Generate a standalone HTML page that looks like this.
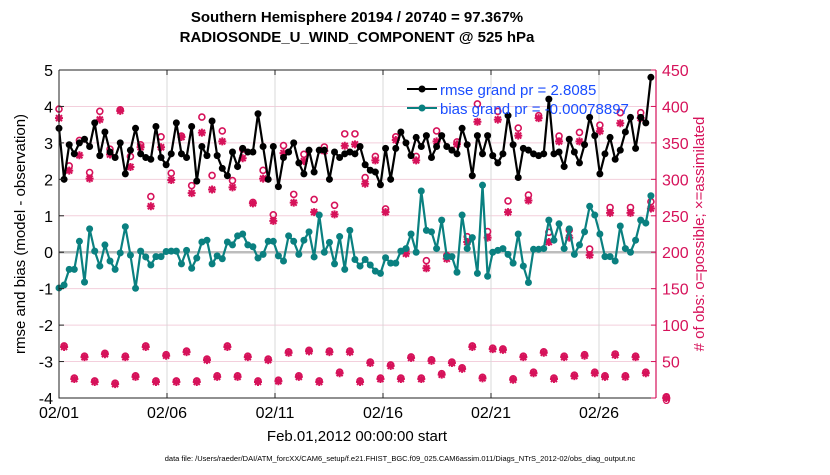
<!DOCTYPE html>
<html><head><meta charset="utf-8"><style>
body{margin:0;background:#fff;}
svg{font-family:"Liberation Sans",Arial,sans-serif;}
</style></head><body>
<svg id="chart" width="830" height="470" viewBox="0 0 830 470" xmlns="http://www.w3.org/2000/svg">
<rect width="830" height="470" fill="#fff"/>
<text x="357" y="22" text-anchor="middle" font-size="15" font-weight="bold">Southern Hemisphere 20194 / 20740 = 97.367%</text>
<text x="357" y="42" text-anchor="middle" font-size="15" font-weight="bold">RADIOSONDE_U_WIND_COMPONENT @ 525 hPa</text>
<g id="grid"></g>
<g id="marks"></g>
<g id="axes"></g>
<text transform="translate(25,234) rotate(-90)" text-anchor="middle" font-size="15">rmse and bias (model - observation)</text>
<text transform="translate(704,234) rotate(-90)" text-anchor="middle" font-size="15" fill="#d6125a">#  of obs: o=possible; ×=assimilated</text>
<text x="357" y="441" text-anchor="middle" font-size="15">Feb.01,2012 00:00:00 start</text>
<text x="400" y="461" text-anchor="middle" font-size="7.5">data file: /Users/raeder/DAI/ATM_forcXX/CAM6_setup/f.e21.FHIST_BGC.f09_025.CAM6assim.011/Diags_NTrS_2012-02/obs_diag_output.nc</text>
<g id="legend">
  <line x1="407" y1="89" x2="437" y2="89" stroke="#000" stroke-width="2"/>
  <circle cx="422" cy="89" r="3.5" fill="#000"/>
  <text x="440" y="95" font-size="15" fill="#1a4dff">rmse grand pr = 2.8085</text>
  <line x1="407" y1="108" x2="437" y2="108" stroke="#0a8080" stroke-width="2"/>
  <circle cx="422" cy="108" r="3.5" fill="#0a8080"/>
  <text x="440" y="114" font-size="15" fill="#1a4dff">bias grand pr = -0.00078897</text>
</g>
</svg>
<script>
const rmse=[3.4,2.0,2.95,2.7,3.0,3.1,2.9,3.55,2.65,3.3,2.75,2.6,3.0,2.15,2.8,3.4,2.7,2.6,2.55,3.45,2.6,2.4,2.7,3.55,2.7,2.6,3.45,1.95,2.9,
2.65,3.6,2.65,2.3,2.1,2.75,2.35,2.85,2.75,2.75,3.8,2.9,2.0,2.9,1.8,2.6,2.75,3.0,2.45,2.15,2.8,2.2,2.8,2.8,2.0,2.75,2.6,2.7,
2.75,2.7,2.9,2.4,2.25,2.2,1.85,2.85,2.0,2.85,3.3,3.0,2.65,3.15,2.9,3.2,2.6,2.9,3.2,2.9,2.8,2.7,3.4,2.95,2.1,3.2,2.7,3.2,2.65,
2.45,2.7,3.75,2.95,2.05,2.85,2.8,2.7,2.65,2.7,4.2,2.7,2.75,2.35,3.1,2.75,2.45,2.95,3.7,3.2,2.15,2.7,3.15,2.55,2.8,3.3,3.7,2.85,3.7,3.55,4.8];
const bias=[-0.98,-0.9,-0.47,-0.47,0.3,-0.82,0.64,0.03,-0.38,0.2,-0.24,-0.47,-0.02,0.7,-0.08,-0.99,0.03,-0.13,-0.35,-0.12,-0.12,0.02,0.03,0.03,-0.32,0.05,-0.44,-0.16,0.28,
0.33,-0.32,-0.1,-0.18,0.28,0.2,0.45,0.5,0.2,0.15,-0.16,-0.06,0.3,0.3,-0.1,-0.24,0.45,0.3,-0.06,0.33,0.56,-0.13,1.02,0.0,0.27,-0.32,0.43,-0.47,
0.6,-0.2,-0.38,-0.2,-0.35,-0.52,-0.58,-0.15,-0.3,-0.3,0.03,0.1,0.5,0.0,1.68,0.6,0.56,0.1,0.88,-0.12,-0.12,-0.55,1.02,0.1,0.4,-0.58,1.84,-0.66,0.0,
0.05,0.1,-0.06,-0.3,0.5,-0.38,-0.83,0.08,0.08,0.1,0.88,0.33,0.78,0.1,0.64,-0.06,0.2,0.56,1.26,1.02,0.5,-0.12,-0.12,-0.24,0.72,0.1,0.0,0.33,0.88,0.8,1.55];
const synPossible=[395,317,352,308,392,340,394,330,346,275,357,307,358,290,384,304,365,297,340,267,311,250,345,278,333,271,343,263,361,361,301,330,258,357,202,330,187,365,194,350,220,402,227,392,269,369,277,386,226,358,229,363,203,373,260,390,260,390,268];
const synAssim=[384,312,333,301,382,334,394,317,344,263,344,299,358,281,364,286,352,289,329,267,301,243,336,268,325,255,339,252,346,348,294,326,255,354,198,326,178,352,191,348,214,379,220,382,255,360,271,384,214,352,220,352,196,366,254,377,254,384,260];
const offCounts=[70,26,56,22,60,19,56,29,70,22,58,22,63,22,52,29,70,29,56,22,52,23,62,29,64,22,63,34,63,22,48,26,44,26,55,26,51,32,48,40,70,27,67,66,25,56,34,62,26,56,30,58,34,29,59,29,56,34,null,0];
const dayTicks=[1,6,11,16,21,26];
const yTicks=[5,4,3,2,1,0,-1,-2,-3,-4];
const rTicks=[450,400,350,300,250,200,150,100,50,0];

const NS='http://www.w3.org/2000/svg';
const L=59,R=656,T=70,B=398,NIDX=118;
const xIdx=i=>L+i*(R-L)/(NIDX-1);
const xDay=d=>L+(d-1)*21.6;
const yL=v=>T+(5-v)*(B-T)/9;
const yR=v=>B-v*(B-T)/450;
function mk(tag,attrs,parent){const e=document.createElementNS(NS,tag);for(const k in attrs)e.setAttribute(k,attrs[k]);parent.appendChild(e);return e;}
const grid=document.getElementById('grid'),marks=document.getElementById('marks'),axes=document.getElementById('axes');

yTicks.forEach(v=>{const g=mk('line',{x1:L,x2:R,y1:yL(v),y2:yL(v),stroke:'#f3cfdc','stroke-width':1},grid);

});
dayTicks.forEach(d=>{const g=mk('line',{x1:xDay(d),x2:xDay(d),y1:T,y2:B,stroke:'#d8d8d8','stroke-width':1},grid);

});
const z=mk('line',{x1:L,x2:R,y1:yL(0),y2:yL(0),stroke:'#bdbdbd','stroke-width':2.5},grid);



// obs markers: synoptic at even idx, off-hour at odd idx
function drawCircle(i,v){const c=mk('circle',{cx:xIdx(i),cy:yR(v)-1,r:3,fill:'none',stroke:'#d6125a','stroke-width':1.6},marks);

}
function drawStar(i,v){const x=xIdx(i),y=yR(v),s=4;const g=mk('path',{d:`M${x-s},${y}H${x+s}M${x},${y-s}V${y+s}M${x-3},${y-3}L${x+3},${y+3}M${x-3},${y+3}L${x+3},${y-3}`,stroke:'#d6125a','stroke-width':2,fill:'none'},marks);

}
synPossible.forEach((v,k)=>{drawStar(2*k,synAssim[k]);drawCircle(2*k,v);});
offCounts.forEach((v,k)=>{if(v===null)return;drawStar(2*k+1,v);drawCircle(2*k+1,v);});

function series(arr,color,name){
  const p=mk('polyline',{points:arr.map((v,i)=>xIdx(i)+','+yL(v)).join(' '),fill:'none',stroke:color,'stroke-width':2.2,'stroke-linejoin':'round'},marks);
  
  
  arr.forEach((v,i)=>{const c=mk('circle',{cx:xIdx(i),cy:yL(v),r:3.5,fill:color},marks);
  
  });
}
series(bias,'#0a8080','bias');
series(rmse,'#000000','rmse');

// axes
mk('path',{d:`M${L},${T}V${B}H${R}M${L},${T}H${R}`,stroke:'#222',fill:'none','stroke-width':1},axes);
mk('line',{x1:R,x2:R,y1:T,y2:B,stroke:'#d6125a','stroke-width':1.2},axes);
yTicks.forEach(v=>{mk('line',{x1:L,x2:L+5,y1:yL(v),y2:yL(v),stroke:'#222'},axes);
const t=mk('text',{x:L-6,y:yL(v)+6,'text-anchor':'end','font-size':16},axes);t.textContent=v;

});
rTicks.forEach(v=>{mk('line',{x1:R-5,x2:R,y1:yR(v),y2:yR(v),stroke:'#d6125a'},axes);
const t=mk('text',{x:R+6,y:yR(v)+6,'font-size':16,fill:'#d6125a'},axes);t.textContent=v;

});
dayTicks.forEach(d=>{mk('line',{x1:xDay(d),x2:xDay(d),y1:B,y2:B-5,stroke:'#222'},axes);mk('line',{x1:xDay(d),x2:xDay(d),y1:T,y2:T+5,stroke:'#222'},axes);
const t=mk('text',{x:xDay(d),y:B+20,'text-anchor':'middle','font-size':16},axes);t.textContent='02/'+String(d).padStart(2,'0');

});
</script>
</body></html>
